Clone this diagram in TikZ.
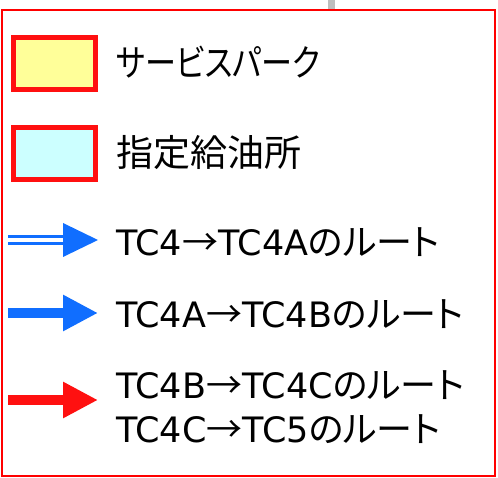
\documentclass[tikz,border=0pt]{standalone}
\usepackage{fontspec}
\setmainfont[RawFeature=+palt]{Noto Sans CJK JP}
\newfontfamily\latinf{DejaVu Sans}
\usetikzlibrary{arrows.meta}
\definecolor{frameRed}{RGB}{255,0,0}
\definecolor{boxRed}{RGB}{255,16,16}
\definecolor{spYellow}{RGB}{255,255,153}
\definecolor{fsCyan}{RGB}{204,255,255}
\definecolor{routeBlue}{RGB}{16,110,255}
\definecolor{routeRed}{RGB}{255,16,16}
\definecolor{barGray}{RGB}{190,190,190}
\newcommand\Lat[1]{{\fontsize{35}{44}\latinf #1}}
\tikzset{
  legendbox/.style={draw=boxRed, line width=5pt, minimum width=82pt, minimum height=52pt, inner sep=0pt},
  legendtext/.style={anchor=west, font=\fontsize{36}{44}\selectfont, inner sep=0pt},
  routetext/.style={anchor=base west, font=\fontsize{36}{44}\selectfont, inner sep=0pt},
  headtip/.style={-{Triangle[length=35pt,width=34pt]}},
}
\begin{document}
\begin{tikzpicture}[x=1pt,y=-1pt]
\useasboundingbox (0,0) rectangle (498,478);
\fill[barGray] (328,0) rectangle (335,10);
\draw[frameRed, line width=2pt] (2,10) rectangle (495,476);
% legend boxes
\node[legendbox, fill=spYellow] (sp) at (54,63.5) {};
\node[legendtext, font=\fontsize{37}{44}\selectfont\addfontfeature{FakeStretch=0.84}] (sptext) at (116,62) {サービスパーク};
\node[legendbox, fill=fsCyan] (fs) at (54,153.5) {};
\node[legendtext, font=\fontsize{37}{44}\selectfont] (fstext) at (116,153) {指定給油所};
% arrows
\draw[routeBlue, line width=3pt] (8,237) -- (66,237);
\draw[routeBlue, line width=3pt] (8,243.5) -- (66,243.5);
\fill[routeBlue] (63,223) -- (98,240) -- (63,257) -- cycle;
\node[routetext] (t1) at (116,256) {\Lat{TC4}→\Lat{TC4A}のルート};
\coordinate (a2s) at (8,313);
\coordinate (a2e) at (98,313);
\draw[routeBlue, line width=10pt, headtip] (a2s) -- (a2e);
\node[routetext] (t2) at (116,327) {\Lat{TC4A}→\Lat{TC4B}のルート};
\coordinate (a3s) at (8,400);
\coordinate (a3e) at (98,400);
\draw[routeRed, line width=10pt, headtip] (a3s) -- (a3e);
\node[routetext] (t3) at (116,398) {\Lat{TC4B}→\Lat{TC4C}のルート};
\node[routetext] (t4) at (116,442) {\Lat{TC4C}→\Lat{TC5}のルート};
\end{tikzpicture}
\end{document}
